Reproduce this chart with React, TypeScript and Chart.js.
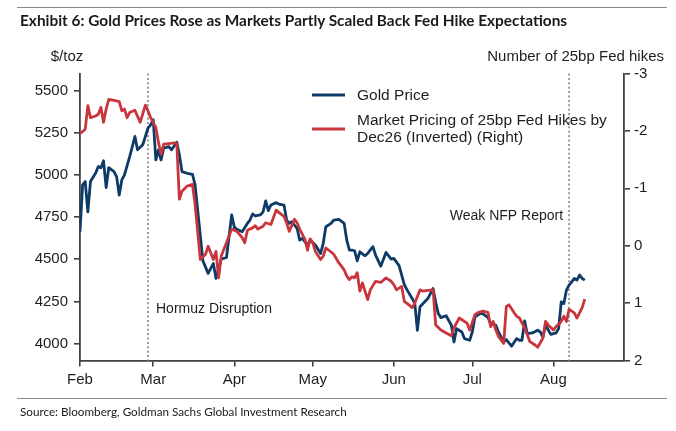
import React, { useEffect, useRef } from "react";
import { Chart, registerables } from "chart.js";

Chart.register(...registerables);

// ---------- data ----------
const monthLabels = ["Feb", "Mar", "Apr", "May", "Jun", "Jul", "Aug"];
// days since 1 Feb 2026 at which each month starts
const monthStartDays = [0, 28, 59, 89, 120, 150, 181];
const axisStartDay = 0;
const axisEndDay = 208;

const goldTicks = [4000, 4250, 4500, 4750, 5000, 5250, 5500];
const hikeTicks = [-3, -2, -1, 0, 1, 2];

// Gold price ($/toz), days since 1 Feb
const goldDays = [
  0, 1, 2, 3, 4, 6, 7, 8, 9, 10, 11, 13, 14, 15, 16, 17, 19, 20, 21, 22, 24, 25, 26, 27, 28, 29, 30, 31, 32, 34, 35, 37,
  38, 39, 41, 43, 44, 47, 49, 51, 52, 54, 56, 58, 59, 60, 62, 64, 65, 66, 67, 69, 70, 71, 72, 73, 75, 76, 78, 79, 80, 81,
  82, 83, 84, 85, 87, 88, 90, 92, 93, 94, 96, 97, 99, 101, 102, 103, 104, 105, 106, 107, 109, 110, 112, 113, 115, 117,
  118, 119, 120, 122, 124, 125, 127, 128, 129, 130, 131, 133, 135, 136, 137, 138, 140, 142, 143, 144, 146, 147, 149, 150,
  151, 153, 154, 156, 157, 159, 160, 162, 163, 165, 167, 168, 169, 170, 171, 173, 175, 176, 177, 178, 180, 181, 182, 183,
  184, 185, 186, 187, 188, 189, 190, 191, 192, 193,
];
const goldPrice = [
  4663, 4940, 4960, 4781, 4960, 5011, 5049, 5041, 5083, 4924, 5043, 5019, 4989, 4880, 4970, 5000, 5108, 5167, 5227, 5148,
  5178, 5227, 5277, 5296, 5326, 5088, 5148, 5088, 5158, 5167, 5148, 5193, 5118, 5019, 5009, 5003, 4940, 4490, 4416, 4475,
  4386, 4500, 4510, 4762, 4690, 4677, 4663, 4712, 4732, 4768, 4756, 4762, 4781, 4845, 4788, 4821, 4835, 4827, 4821, 4732,
  4712, 4722, 4702, 4683, 4613, 4623, 4584, 4613, 4584, 4534, 4594, 4692, 4712, 4732, 4736, 4712, 4613, 4554, 4554, 4550,
  4490, 4544, 4520, 4534, 4574, 4524, 4459, 4540, 4520, 4500, 4505, 4462, 4350, 4320, 4267, 4240, 4079, 4218, 4235, 4267,
  4327, 4245, 4178, 4154, 4165, 4109, 4010, 4089, 4069, 4030, 4020, 4069, 4158, 4178, 4178, 4154, 4120, 4109, 4069, 4010,
  4024, 3985, 4030, 4020, 4020, 4135, 4059, 4063, 4079, 4069, 4039, 4109, 4055, 4059, 4063, 4089, 4247, 4238, 4317, 4346,
  4366, 4386, 4376, 4406, 4386, 4376,
];

// Market pricing of 25bp Fed hikes by Dec26, days since 1 Feb
const hikeDays = [
  0, 2, 3, 4, 6, 7, 8, 9, 10, 11, 13, 15, 16, 17, 18, 19, 21, 23, 25, 26, 27, 29, 30, 31, 32, 34, 36, 37, 38, 39, 41, 43,
  44, 46, 48, 49, 51, 52, 53, 54, 56, 58, 60, 62, 63, 64, 66, 67, 68, 70, 71, 73, 75, 76, 78, 79, 80, 82, 83, 84, 86, 87,
  88, 89, 90, 92, 93, 94, 96, 97, 99, 101, 102, 103, 104, 105, 106, 107, 108, 110, 111, 113, 115, 117, 119, 120, 121, 123,
  124, 126, 127, 128, 130, 131, 133, 135, 136, 138, 140, 142, 143, 145, 146, 148, 149, 151, 152, 154, 156, 157, 158, 159,
  160, 162, 163, 164, 166, 167, 168, 170, 172, 174, 175, 177, 178, 179, 181, 182, 184, 185, 186, 187, 189, 190, 192, 193,
];
const hikePricing = [
  -1.95, -2.03, -2.44, -2.23, -2.26, -2.29, -2.41, -2.15, -2.38, -2.55, -2.53, -2.51, -2.35, -2.38, -2.23, -2.32, -2.36,
  -2.15, -2.45, -2.35, -2.23, -2.06, -1.8, -1.59, -1.77, -1.78, -1.79, -1.78, -0.81, -0.95, -1.04, -1.07, -0.72, 0.24, 0.15,
  0.01, 0.24, 0.1, 0.56, 0.18, -0.05, -0.29, -0.25, -0.14, -0.05, -0.27, -0.31, -0.35, -0.29, -0.34, -0.4, -0.37, -0.62,
  -0.58, -0.51, -0.4, -0.25, -0.46, -0.4, -0.29, -0.11, 0.08, -0.12, -0.05, 0.1, 0.24, 0.18, 0.04, 0.11, 0.15, 0.3, 0.42,
  0.53, 0.59, 0.54, 0.56, 0.47, 0.79, 0.65, 0.94, 0.77, 0.62, 0.64, 0.56, 0.62, 0.68, 0.77, 0.71, 0.97, 1.04, 1.08, 1.0,
  0.77, 0.79, 0.78, 0.77, 1.38, 1.47, 1.52, 1.57, 1.43, 1.26, 1.29, 1.35, 1.47, 1.2, 1.17, 1.14, 1.16, 1.41, 1.32, 1.47,
  1.58, 1.7, 1.06, 1.03, 1.17, 1.23, 1.26, 1.43, 1.67, 1.73, 1.77, 1.61, 1.32, 1.38, 1.47, 1.41, 1.32, 1.23, 1.32, 1.11,
  1.17, 1.26, 1.08, 0.93,
];

const eventDays = [26, 187];
const eventLabels = ["Hormuz Disruption", "Weak NFP Report"];

const seriesNames = ["Gold Price", "Market Pricing of 25bp Fed Hikes by", "Dec26 (Inverted) (Right)"];
const titleText = "Exhibit 6: Gold Prices Rose as Markets Partly Scaled Back Fed Hike Expectations";
const sourceText = "Source: Bloomberg, Goldman Sachs Global Investment Research";
const leftAxisTitle = "$/toz";
const rightAxisTitle = "Number of 25bp Fed hikes";

// ---------- styles ----------
const BLUE = "#0d3a66";
const RED = "#c9353c";
const AXIS = "#404040";
const TEXT = "#1e1e1e";
const FONT = "'Liberation Sans', Arial, Helvetica, sans-serif";

const overlayPlugin = {
  id: "overlay",
  beforeDatasetsDraw(chart: any) {
    const { ctx, chartArea, scales } = chart;
    ctx.save();
    ctx.strokeStyle = "#9c9c9c";
    ctx.lineWidth = 2;
    ctx.setLineDash([2, 2.4]);
    eventDays.forEach((d) => {
      const x = scales.x.getPixelForValue(d);
      ctx.beginPath();
      ctx.moveTo(x, chartArea.top);
      ctx.lineTo(x, chartArea.bottom);
      ctx.stroke();
    });
    ctx.restore();
  },
  afterDraw(chart: any) {
    const { ctx, chartArea, scales } = chart;
    ctx.save();
    ctx.fillStyle = TEXT;
    ctx.textBaseline = "middle";

    // axis titles
    ctx.font = `15px ${FONT}`;
    ctx.textAlign = "center";
    ctx.fillText(leftAxisTitle, chartArea.left - 13, 57);
    ctx.textAlign = "right";
    ctx.fillText(rightAxisTitle, 664, 57);

    // event labels
    ctx.font = `14px ${FONT}`;
    const x1 = scales.x.getPixelForValue(eventDays[0]);
    ctx.textAlign = "left";
    ctx.fillText(eventLabels[0], x1 + 8, 309);
    const x2 = scales.x.getPixelForValue(eventDays[1]);
    ctx.textAlign = "right";
    ctx.fillText(eventLabels[1], x2 - 6, 216);

    // legend
    const lx = 312;
    ctx.lineWidth = 3;
    ctx.strokeStyle = BLUE;
    ctx.beginPath();
    ctx.moveTo(lx, 95);
    ctx.lineTo(lx + 33, 95);
    ctx.stroke();
    ctx.strokeStyle = RED;
    ctx.beginPath();
    ctx.moveTo(lx, 129);
    ctx.lineTo(lx + 33, 129);
    ctx.stroke();
    ctx.font = `15.5px ${FONT}`;
    ctx.textAlign = "left";
    ctx.fillText(seriesNames[0], 357, 96);
    ctx.fillText(seriesNames[1], 357, 120.5);
    ctx.fillText(seriesNames[2], 357, 138);
    ctx.restore();
  },
};

function ChartCanvas() {
  const ref = useRef<HTMLCanvasElement | null>(null);
  useEffect(() => {
    if (!ref.current) return;
    const goldData = goldDays.map((d, i) => ({ x: d, y: goldPrice[i] }));
    const hikeData = hikeDays.map((d, i) => ({ x: d, y: hikePricing[i] }));
    const axisGrid = {
      display: true,
      drawOnChartArea: false,
      drawTicks: true,
      tickLength: 6,
      color: AXIS,
      lineWidth: 1.6,
    };
    const axisBorder = { display: true, color: AXIS, width: 1.8 };
    const tickFont = { family: FONT, size: 15 };
    const chart = new Chart(ref.current, {
      type: "line",
      data: {
        datasets: [
          {
            label: seriesNames[0],
            data: goldData,
            yAxisID: "yGold",
            borderColor: BLUE,
            borderWidth: 2.8,
            pointRadius: 0,
            tension: 0,
            borderJoinStyle: "round",
            order: 1,
          },
          {
            label: seriesNames[1] + " " + seriesNames[2],
            data: hikeData,
            yAxisID: "yHikes",
            borderColor: RED,
            borderWidth: 2.8,
            pointRadius: 0,
            tension: 0,
            borderJoinStyle: "round",
            order: 0,
          },
        ],
      },
      options: {
        responsive: false,
        animation: false,
        devicePixelRatio: window.devicePixelRatio || 1,
        layout: { padding: { top: 73.5, left: 0, right: 0, bottom: 0 } },
        plugins: { legend: { display: false }, tooltip: { enabled: false }, title: { display: false } },
        scales: {
          x: {
            type: "linear",
            position: "bottom",
            min: axisStartDay,
            max: axisEndDay,
            grid: axisGrid,
            border: axisBorder,
            afterBuildTicks: (s: any) => {
              s.ticks = monthStartDays.map((v) => ({ value: v }));
            },
            afterFit: (s: any) => {
              s.height = 70.5;
            },
            ticks: {
              font: tickFont,
              color: TEXT,
              padding: 4,
              maxRotation: 0,
              autoSkip: false,
              callback: (v: any) => monthLabels[monthStartDays.indexOf(Number(v))] ?? "",
            },
          },
          yGold: {
            type: "linear",
            position: "left",
            min: 3900,
            max: 5600,
            grid: axisGrid,
            border: axisBorder,
            afterBuildTicks: (s: any) => {
              s.ticks = goldTicks.map((v) => ({ value: v }));
            },
            afterFit: (s: any) => {
              s.width = 80;
            },
            ticks: { font: tickFont, color: TEXT, padding: 6, callback: (v: any) => String(v) },
          },
          yHikes: {
            type: "linear",
            position: "right",
            min: -3,
            max: 2,
            reverse: true,
            grid: axisGrid,
            border: axisBorder,
            afterBuildTicks: (s: any) => {
              s.ticks = hikeTicks.map((v) => ({ value: v }));
            },
            afterFit: (s: any) => {
              s.width = 52;
            },
            ticks: { font: tickFont, color: TEXT, padding: 4, callback: (v: any) => String(v) },
          },
        },
      },
      plugins: [overlayPlugin],
    } as any);
    return () => chart.destroy();
  }, []);
  return <canvas ref={ref} width={676} height={431} style={{ position: "absolute", left: 0, top: 0, width: 676, height: 431 }} />;
}

export default function App() {
  return (
    <div style={{ position: "absolute", left: 0, top: 0, width: 676, height: 431, background: "#fff", overflow: "hidden" }}>
      <div style={{ position: "absolute", left: 17, top: 7, width: 650, height: 0, borderTop: "1.5px solid #8a8a8a" }} />
      <div
        style={{
          position: "absolute",
          left: 20,
          top: 10,
          font: "bold 15.4px Lato, 'Open Sans', sans-serif",
          color: "#1a1a1a",
          whiteSpace: "nowrap",
          lineHeight: "20px",
          zIndex: 2,
        }}
      >
        {titleText}
      </div>
      <ChartCanvas />
      <div style={{ position: "absolute", left: 17, top: 398, width: 650, height: 0, borderTop: "1.5px solid #8a8a8a" }} />
      <div
        style={{
          position: "absolute",
          left: 20,
          top: 403,
          font: "11.7px Lato, 'Open Sans', sans-serif",
          color: "#1a1a1a",
          whiteSpace: "nowrap",
          lineHeight: "16px",
        }}
      >
        {sourceText}
      </div>
    </div>
  );
}
